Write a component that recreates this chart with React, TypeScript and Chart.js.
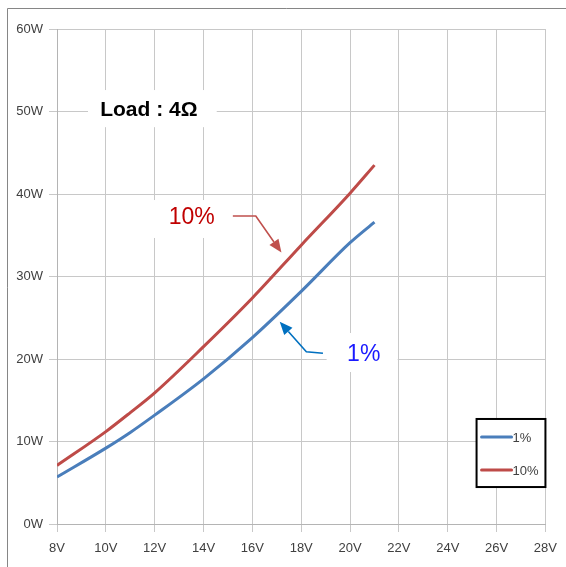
import React, { useEffect, useRef } from 'react';
import { Chart, registerables } from 'chart.js';
Chart.register(...registerables);

const voltages = [8, 10, 11, 12, 14, 16, 18, 20, 21];
const thd1 = [5.7, 9.2, 11.1, 13.2, 17.6, 22.6, 28.2, 34.1, 36.6];
const thd10 = [7.1, 11.2, 13.5, 15.9, 21.5, 27.4, 33.8, 40.1, 43.5];
const seriesLabels = ['1%', '10%'];
const seriesColors = ['#4a7ebb', '#be4b48'];
const xTicks = [8, 10, 12, 14, 16, 18, 20, 22, 24, 26, 28];
const yTicks = [0, 10, 20, 30, 40, 50, 60];
const loadLabel = 'Load : 4Ω';

const tickFont = { family: '"Liberation Sans", Arial, sans-serif', size: 13 };

function arrow(ctx: CanvasRenderingContext2D, pts: number[][], color: string) {
  ctx.save();
  ctx.strokeStyle = color;
  ctx.fillStyle = color;
  ctx.lineWidth = 1.6;
  const n = pts.length;
  const [tx, ty] = pts[n - 1];
  const [px, py] = pts[n - 2];
  const ang = Math.atan2(ty - py, tx - px);
  const len = 13, half = 5.5;
  const bx = tx - Math.cos(ang) * len, by = ty - Math.sin(ang) * len;
  ctx.beginPath();
  ctx.moveTo(pts[0][0], pts[0][1]);
  for (let i = 1; i < n - 1; i++) ctx.lineTo(pts[i][0], pts[i][1]);
  ctx.lineTo(bx, by);
  ctx.stroke();
  ctx.beginPath();
  ctx.moveTo(tx, ty);
  ctx.lineTo(bx - Math.sin(ang) * half, by + Math.cos(ang) * half);
  ctx.lineTo(bx + Math.sin(ang) * half, by - Math.cos(ang) * half);
  ctx.closePath();
  ctx.fill();
  ctx.restore();
}

const annoPlugin = {
  id: 'anno',
  beforeDraw(chart: any) {
    const ctx = chart.ctx;
    ctx.save();
    ctx.fillStyle = '#ffffff';
    ctx.fillRect(0, 0, chart.width, chart.height);
    ctx.strokeStyle = '#868686';
    ctx.lineWidth = 1;
    ctx.beginPath();
    ctx.moveTo(7.5, chart.height);
    ctx.lineTo(7.5, 8.5);
    ctx.lineTo(chart.width, 8.5);
    ctx.stroke();
    ctx.restore();
  },
  beforeDatasetsDraw(chart: any) {
    const ctx = chart.ctx;
    const X = (v: number) => chart.scales.x.getPixelForValue(v);
    const Y = (v: number) => chart.scales.y.getPixelForValue(v);
    ctx.save();
    ctx.fillStyle = '#ffffff';
    const box = (x0: number, x1: number, y0: number, y1: number) => {
      ctx.fillRect(X(x0), Y(y0), X(x1) - X(x0), Y(y1) - Y(y0));
    };
    box(9.27, 14.54, 52.6, 48.1);
    box(11.89, 15.16, 39.27, 34.67);
    box(19.04, 21.95, 23.15, 18.42);
    ctx.textAlign = 'center';
    ctx.textBaseline = 'middle';
    ctx.fillStyle = '#000000';
    ctx.font = 'bold 21px "Liberation Sans", Arial, sans-serif';
    ctx.fillText(loadLabel, X(11.76), Y(50.2));
    ctx.font = '23px "Liberation Sans", Arial, sans-serif';
    ctx.fillStyle = '#c00000';
    ctx.fillText(seriesLabels[1], X(13.52), Y(37.09));
    ctx.fillStyle = '#1a1aff';
    ctx.fillText(seriesLabels[0], X(20.56), Y(20.48));
    ctx.restore();
  },
  afterDatasetsDraw(chart: any) {
    const ctx = chart.ctx;
    const X = (v: number) => chart.scales.x.getPixelForValue(v);
    const Y = (v: number) => chart.scales.y.getPixelForValue(v);
    arrow(ctx, [[X(15.2), Y(37.33)], [X(16.14), Y(37.33)], [X(17.19), Y(32.9)]], '#c0504d');
    arrow(ctx, [[X(18.89), Y(20.69)], [X(18.21), Y(20.88)], [X(17.12), Y(24.52)]], '#0070c0');
    // legend
    ctx.save();
    const lx0 = X(25.18), lx1 = X(28.0), ly0 = Y(12.73), ly1 = Y(4.48);
    ctx.fillStyle = '#ffffff';
    ctx.fillRect(lx0, ly0, lx1 - lx0, ly1 - ly0);
    ctx.strokeStyle = '#000000';
    ctx.lineWidth = 2;
    ctx.strokeRect(lx0, ly0, lx1 - lx0, ly1 - ly0);
    ctx.font = '13px "Liberation Sans", Arial, sans-serif';
    ctx.textBaseline = 'middle';
    ctx.textAlign = 'left';
    chart.data.datasets.forEach((ds: any, i: number) => {
      const yy = ly0 + 18 + i * 33;
      ctx.strokeStyle = ds.borderColor;
      ctx.lineWidth = 3;
      ctx.lineCap = 'round';
      ctx.beginPath();
      ctx.moveTo(lx0 + 5, yy);
      ctx.lineTo(lx0 + 35, yy);
      ctx.stroke();
      ctx.fillStyle = '#404040';
      ctx.fillText(ds.label, lx0 + 36, yy + 1);
    });
    ctx.restore();
  },
};

export default function App() {
  const ref = useRef<HTMLCanvasElement>(null);
  useEffect(() => {
    document.body.style.margin = '0';
    const canvas = ref.current!;
    const chart = new Chart(canvas, {
      type: 'line',
      data: {
        datasets: [
          {
            label: seriesLabels[0],
            data: voltages.map((v, i) => ({ x: v, y: thd1[i] })),
            borderColor: seriesColors[0],
            borderWidth: 3,
            pointRadius: 0,
            cubicInterpolationMode: 'monotone',
            fill: false,
          },
          {
            label: seriesLabels[1],
            data: voltages.map((v, i) => ({ x: v, y: thd10[i] })),
            borderColor: seriesColors[1],
            borderWidth: 3,
            pointRadius: 0,
            cubicInterpolationMode: 'monotone',
            fill: false,
          },
        ],
      },
      options: {
        animation: false,
        responsive: false,
        devicePixelRatio: 1,
        layout: { padding: { top: 29, right: 20, left: 0, bottom: 0 } },
        plugins: { legend: { display: false }, tooltip: { enabled: false } },
        scales: {
          x: {
            type: 'linear',
            min: 8,
            max: 28,
            afterBuildTicks: (s: any) => { s.ticks = xTicks.map((v) => ({ value: v })); },
            afterFit: (s: any) => { s.height = 43; },
            ticks: { callback: (v: any) => v + 'V', font: tickFont, color: '#404040', padding: 9, maxRotation: 0 },
            grid: { color: '#c8c8c8', tickLength: 8, lineWidth: 1 },
            border: { color: '#b4b4b4' },
          },
          y: {
            min: 0,
            max: 60,
            afterBuildTicks: (s: any) => { s.ticks = yTicks.map((v) => ({ value: v })); },
            afterFit: (s: any) => { s.width = 57; },
            ticks: { callback: (v: any) => v + 'W', font: tickFont, color: '#404040', padding: 6 },
            grid: { color: '#c8c8c8', tickLength: 8, lineWidth: 1 },
            border: { color: '#b4b4b4' },
          },
        },
      },
      plugins: [annoPlugin],
    } as any);
    return () => chart.destroy();
  }, []);
  return <canvas ref={ref} width={566} height={567} style={{ display: 'block' }} />;
}
